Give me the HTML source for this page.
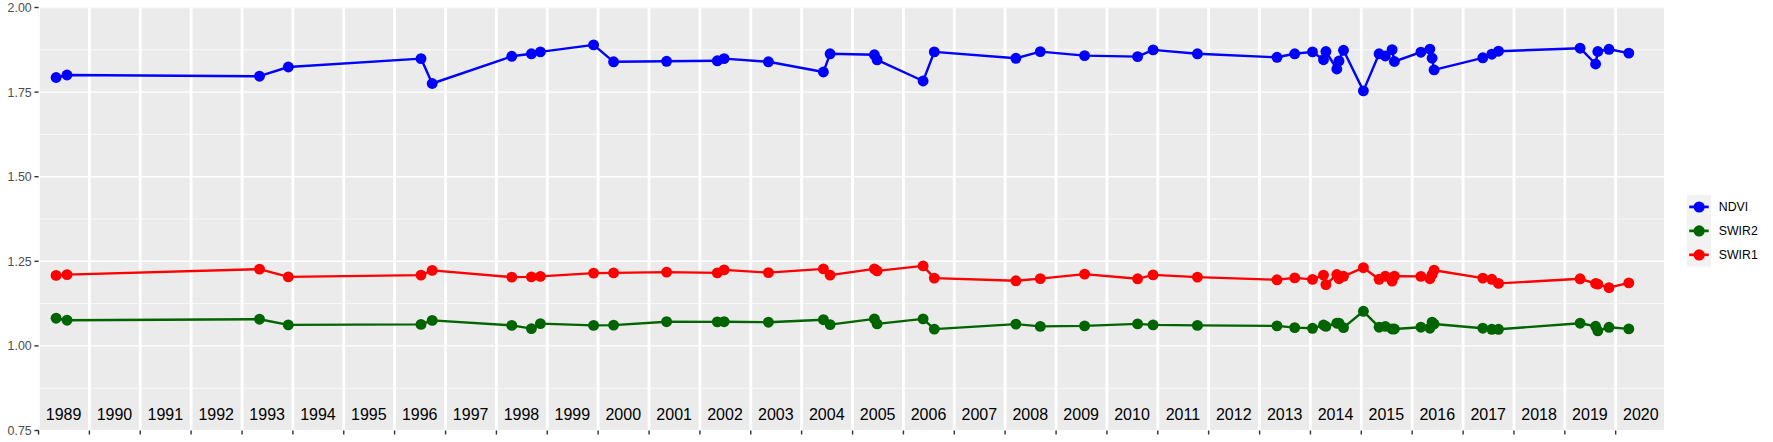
<!DOCTYPE html>
<html><head><meta charset="utf-8"><title>Index time series</title>
<style>html,body{margin:0;padding:0;background:#fff}svg{display:block}text{font-family:"Liberation Sans",sans-serif}</style></head><body>
<svg width="1773" height="442" viewBox="0 0 1773 442">
<rect width="1773" height="442" fill="#fff"/>
<defs><clipPath id="pc"><rect x="38.55" y="7.5" width="1625.50" height="422.50"/></clipPath></defs>
<rect x="38.55" y="7.5" width="1625.50" height="422.50" fill="#EBEBEB"/>
<g clip-path="url(#pc)" stroke="#fff" fill="none">
<line x1="38.55" x2="1664.05" y1="49.80" y2="49.80" stroke-width="0.71"/>
<line x1="38.55" x2="1664.05" y1="134.40" y2="134.40" stroke-width="0.71"/>
<line x1="38.55" x2="1664.05" y1="219.00" y2="219.00" stroke-width="0.71"/>
<line x1="38.55" x2="1664.05" y1="303.60" y2="303.60" stroke-width="0.71"/>
<line x1="38.55" x2="1664.05" y1="388.20" y2="388.20" stroke-width="0.71"/>
<line x1="38.55" x2="1664.05" y1="7.50" y2="7.50" stroke-width="1.42"/>
<line x1="38.55" x2="1664.05" y1="92.10" y2="92.10" stroke-width="1.42"/>
<line x1="38.55" x2="1664.05" y1="176.70" y2="176.70" stroke-width="1.42"/>
<line x1="38.55" x2="1664.05" y1="261.30" y2="261.30" stroke-width="1.42"/>
<line x1="38.55" x2="1664.05" y1="345.90" y2="345.90" stroke-width="1.42"/>
<line x1="38.55" x2="38.55" y1="7.5" y2="430.5" stroke-width="2.85"/>
<line x1="89.39" x2="89.39" y1="7.5" y2="430.5" stroke-width="2.85"/>
<line x1="140.24" x2="140.24" y1="7.5" y2="430.5" stroke-width="2.85"/>
<line x1="191.08" x2="191.08" y1="7.5" y2="430.5" stroke-width="2.85"/>
<line x1="242.06" x2="242.06" y1="7.5" y2="430.5" stroke-width="2.85"/>
<line x1="292.90" x2="292.90" y1="7.5" y2="430.5" stroke-width="2.85"/>
<line x1="343.75" x2="343.75" y1="7.5" y2="430.5" stroke-width="2.85"/>
<line x1="394.59" x2="394.59" y1="7.5" y2="430.5" stroke-width="2.85"/>
<line x1="445.57" x2="445.57" y1="7.5" y2="430.5" stroke-width="2.85"/>
<line x1="496.41" x2="496.41" y1="7.5" y2="430.5" stroke-width="2.85"/>
<line x1="547.26" x2="547.26" y1="7.5" y2="430.5" stroke-width="2.85"/>
<line x1="598.10" x2="598.10" y1="7.5" y2="430.5" stroke-width="2.85"/>
<line x1="649.08" x2="649.08" y1="7.5" y2="430.5" stroke-width="2.85"/>
<line x1="699.92" x2="699.92" y1="7.5" y2="430.5" stroke-width="2.85"/>
<line x1="750.77" x2="750.77" y1="7.5" y2="430.5" stroke-width="2.85"/>
<line x1="801.61" x2="801.61" y1="7.5" y2="430.5" stroke-width="2.85"/>
<line x1="852.59" x2="852.59" y1="7.5" y2="430.5" stroke-width="2.85"/>
<line x1="903.43" x2="903.43" y1="7.5" y2="430.5" stroke-width="2.85"/>
<line x1="954.28" x2="954.28" y1="7.5" y2="430.5" stroke-width="2.85"/>
<line x1="1005.12" x2="1005.12" y1="7.5" y2="430.5" stroke-width="2.85"/>
<line x1="1056.10" x2="1056.10" y1="7.5" y2="430.5" stroke-width="2.85"/>
<line x1="1106.94" x2="1106.94" y1="7.5" y2="430.5" stroke-width="2.85"/>
<line x1="1157.79" x2="1157.79" y1="7.5" y2="430.5" stroke-width="2.85"/>
<line x1="1208.63" x2="1208.63" y1="7.5" y2="430.5" stroke-width="2.85"/>
<line x1="1259.61" x2="1259.61" y1="7.5" y2="430.5" stroke-width="2.85"/>
<line x1="1310.45" x2="1310.45" y1="7.5" y2="430.5" stroke-width="2.85"/>
<line x1="1361.30" x2="1361.30" y1="7.5" y2="430.5" stroke-width="2.85"/>
<line x1="1412.14" x2="1412.14" y1="7.5" y2="430.5" stroke-width="2.85"/>
<line x1="1463.12" x2="1463.12" y1="7.5" y2="430.5" stroke-width="2.85"/>
<line x1="1513.96" x2="1513.96" y1="7.5" y2="430.5" stroke-width="2.85"/>
<line x1="1564.81" x2="1564.81" y1="7.5" y2="430.5" stroke-width="2.85"/>
<line x1="1615.65" x2="1615.65" y1="7.5" y2="430.5" stroke-width="2.85"/>
</g>
<g clip-path="url(#pc)"><polyline points="56.1,77.5 67.0,75.0 259.5,76.2 288.3,67.0 421.0,58.6 432.2,83.5 511.8,56.3 531.4,53.8 540.4,51.9 593.6,44.9 613.6,61.8 666.6,61.3 717.3,60.8 724.1,58.6 768.4,61.8 823.4,72.0 830.1,53.8 874.4,54.8 877.1,59.8 923.1,81.0 934.3,51.9 1015.9,58.3 1040.3,51.6 1084.6,55.6 1137.6,56.6 1153.1,49.9 1197.4,53.8 1277.0,57.3 1294.7,53.8 1312.5,51.9 1323.5,59.7 1325.9,51.5 1336.8,69.0 1339.0,61.0 1343.5,50.3 1363.4,90.9 1379.1,53.8 1385.3,56.0 1392.1,49.7 1394.4,61.5 1420.9,52.2 1429.9,49.1 1432.1,58.2 1434.1,69.9 1482.8,57.8 1491.8,54.2 1498.5,51.2 1580.1,48.2 1595.6,64.0 1597.8,51.5 1609.0,49.3 1628.8,53.1" fill="none" stroke="#0000FF" stroke-width="2.4" stroke-linejoin="round" stroke-linecap="butt"/>
<g fill="#0000FF"><circle cx="56.1" cy="77.5" r="5.45"/><circle cx="67.0" cy="75.0" r="5.45"/><circle cx="259.5" cy="76.2" r="5.45"/><circle cx="288.3" cy="67.0" r="5.45"/><circle cx="421.0" cy="58.6" r="5.45"/><circle cx="432.2" cy="83.5" r="5.45"/><circle cx="511.8" cy="56.3" r="5.45"/><circle cx="531.4" cy="53.8" r="5.45"/><circle cx="540.4" cy="51.9" r="5.45"/><circle cx="593.6" cy="44.9" r="5.45"/><circle cx="613.6" cy="61.8" r="5.45"/><circle cx="666.6" cy="61.3" r="5.45"/><circle cx="717.3" cy="60.8" r="5.45"/><circle cx="724.1" cy="58.6" r="5.45"/><circle cx="768.4" cy="61.8" r="5.45"/><circle cx="823.4" cy="72.0" r="5.45"/><circle cx="830.1" cy="53.8" r="5.45"/><circle cx="874.4" cy="54.8" r="5.45"/><circle cx="877.1" cy="59.8" r="5.45"/><circle cx="923.1" cy="81.0" r="5.45"/><circle cx="934.3" cy="51.9" r="5.45"/><circle cx="1015.9" cy="58.3" r="5.45"/><circle cx="1040.3" cy="51.6" r="5.45"/><circle cx="1084.6" cy="55.6" r="5.45"/><circle cx="1137.6" cy="56.6" r="5.45"/><circle cx="1153.1" cy="49.9" r="5.45"/><circle cx="1197.4" cy="53.8" r="5.45"/><circle cx="1277.0" cy="57.3" r="5.45"/><circle cx="1294.7" cy="53.8" r="5.45"/><circle cx="1312.5" cy="51.9" r="5.45"/><circle cx="1323.5" cy="59.7" r="5.45"/><circle cx="1325.9" cy="51.5" r="5.45"/><circle cx="1336.8" cy="69.0" r="5.45"/><circle cx="1339.0" cy="61.0" r="5.45"/><circle cx="1343.5" cy="50.3" r="5.45"/><circle cx="1363.4" cy="90.9" r="5.45"/><circle cx="1379.1" cy="53.8" r="5.45"/><circle cx="1385.3" cy="56.0" r="5.45"/><circle cx="1392.1" cy="49.7" r="5.45"/><circle cx="1394.4" cy="61.5" r="5.45"/><circle cx="1420.9" cy="52.2" r="5.45"/><circle cx="1429.9" cy="49.1" r="5.45"/><circle cx="1432.1" cy="58.2" r="5.45"/><circle cx="1434.1" cy="69.9" r="5.45"/><circle cx="1482.8" cy="57.8" r="5.45"/><circle cx="1491.8" cy="54.2" r="5.45"/><circle cx="1498.5" cy="51.2" r="5.45"/><circle cx="1580.1" cy="48.2" r="5.45"/><circle cx="1595.6" cy="64.0" r="5.45"/><circle cx="1597.8" cy="51.5" r="5.45"/><circle cx="1609.0" cy="49.3" r="5.45"/><circle cx="1628.8" cy="53.1" r="5.45"/></g></g>
<g clip-path="url(#pc)"><polyline points="56.1,318.2 67.0,320.2 259.5,319.2 288.3,324.9 421.0,324.4 432.2,320.4 511.8,325.4 531.4,328.6 540.4,323.6 593.6,325.4 613.6,325.1 666.6,321.7 717.3,321.9 724.1,321.7 768.4,322.2 823.4,319.7 830.1,324.6 874.4,318.9 877.1,323.9 923.1,318.9 934.3,329.1 1015.9,324.1 1040.3,326.4 1084.6,325.9 1137.6,323.9 1153.1,324.9 1197.4,325.4 1277.0,325.9 1294.7,327.6 1312.5,328.3 1323.5,325.0 1325.9,326.4 1336.8,323.2 1339.0,323.2 1343.5,327.6 1363.4,311.3 1379.1,327.2 1385.3,326.4 1392.1,329.0 1394.4,329.0 1420.9,327.2 1429.9,328.2 1432.1,322.2 1434.1,324.0 1482.8,328.2 1491.8,329.3 1498.5,329.3 1580.1,323.2 1595.6,326.3 1597.8,330.8 1609.0,327.3 1628.8,328.9" fill="none" stroke="#006400" stroke-width="2.4" stroke-linejoin="round" stroke-linecap="butt"/>
<g fill="#006400"><circle cx="56.1" cy="318.2" r="5.45"/><circle cx="67.0" cy="320.2" r="5.45"/><circle cx="259.5" cy="319.2" r="5.45"/><circle cx="288.3" cy="324.9" r="5.45"/><circle cx="421.0" cy="324.4" r="5.45"/><circle cx="432.2" cy="320.4" r="5.45"/><circle cx="511.8" cy="325.4" r="5.45"/><circle cx="531.4" cy="328.6" r="5.45"/><circle cx="540.4" cy="323.6" r="5.45"/><circle cx="593.6" cy="325.4" r="5.45"/><circle cx="613.6" cy="325.1" r="5.45"/><circle cx="666.6" cy="321.7" r="5.45"/><circle cx="717.3" cy="321.9" r="5.45"/><circle cx="724.1" cy="321.7" r="5.45"/><circle cx="768.4" cy="322.2" r="5.45"/><circle cx="823.4" cy="319.7" r="5.45"/><circle cx="830.1" cy="324.6" r="5.45"/><circle cx="874.4" cy="318.9" r="5.45"/><circle cx="877.1" cy="323.9" r="5.45"/><circle cx="923.1" cy="318.9" r="5.45"/><circle cx="934.3" cy="329.1" r="5.45"/><circle cx="1015.9" cy="324.1" r="5.45"/><circle cx="1040.3" cy="326.4" r="5.45"/><circle cx="1084.6" cy="325.9" r="5.45"/><circle cx="1137.6" cy="323.9" r="5.45"/><circle cx="1153.1" cy="324.9" r="5.45"/><circle cx="1197.4" cy="325.4" r="5.45"/><circle cx="1277.0" cy="325.9" r="5.45"/><circle cx="1294.7" cy="327.6" r="5.45"/><circle cx="1312.5" cy="328.3" r="5.45"/><circle cx="1323.5" cy="325.0" r="5.45"/><circle cx="1325.9" cy="326.4" r="5.45"/><circle cx="1336.8" cy="323.2" r="5.45"/><circle cx="1339.0" cy="323.2" r="5.45"/><circle cx="1343.5" cy="327.6" r="5.45"/><circle cx="1363.4" cy="311.3" r="5.45"/><circle cx="1379.1" cy="327.2" r="5.45"/><circle cx="1385.3" cy="326.4" r="5.45"/><circle cx="1392.1" cy="329.0" r="5.45"/><circle cx="1394.4" cy="329.0" r="5.45"/><circle cx="1420.9" cy="327.2" r="5.45"/><circle cx="1429.9" cy="328.2" r="5.45"/><circle cx="1432.1" cy="322.2" r="5.45"/><circle cx="1434.1" cy="324.0" r="5.45"/><circle cx="1482.8" cy="328.2" r="5.45"/><circle cx="1491.8" cy="329.3" r="5.45"/><circle cx="1498.5" cy="329.3" r="5.45"/><circle cx="1580.1" cy="323.2" r="5.45"/><circle cx="1595.6" cy="326.3" r="5.45"/><circle cx="1597.8" cy="330.8" r="5.45"/><circle cx="1609.0" cy="327.3" r="5.45"/><circle cx="1628.8" cy="328.9" r="5.45"/></g></g>
<g clip-path="url(#pc)"><polyline points="56.1,275.4 67.0,274.6 259.5,269.1 288.3,276.9 421.0,275.1 432.2,270.4 511.8,277.1 531.4,276.9 540.4,276.4 593.6,273.1 613.6,272.9 666.6,272.1 717.3,272.9 724.1,269.9 768.4,272.6 823.4,268.9 830.1,275.1 874.4,268.9 877.1,270.9 923.1,265.9 934.3,278.1 1015.9,280.8 1040.3,278.6 1084.6,274.1 1137.6,278.8 1153.1,274.9 1197.4,277.1 1277.0,279.8 1294.7,277.9 1312.5,279.4 1323.5,275.1 1325.9,284.6 1336.8,274.5 1339.0,278.7 1343.5,276.3 1363.4,267.7 1379.1,279.3 1385.3,276.3 1392.1,281.1 1394.4,276.1 1420.9,276.4 1429.9,278.7 1432.1,274.5 1434.1,270.2 1482.8,278.1 1491.8,279.3 1498.5,283.4 1580.1,278.8 1595.6,283.5 1597.8,284.1 1609.0,287.6 1628.8,282.9" fill="none" stroke="#FF0000" stroke-width="2.4" stroke-linejoin="round" stroke-linecap="butt"/>
<g fill="#FF0000"><circle cx="56.1" cy="275.4" r="5.45"/><circle cx="67.0" cy="274.6" r="5.45"/><circle cx="259.5" cy="269.1" r="5.45"/><circle cx="288.3" cy="276.9" r="5.45"/><circle cx="421.0" cy="275.1" r="5.45"/><circle cx="432.2" cy="270.4" r="5.45"/><circle cx="511.8" cy="277.1" r="5.45"/><circle cx="531.4" cy="276.9" r="5.45"/><circle cx="540.4" cy="276.4" r="5.45"/><circle cx="593.6" cy="273.1" r="5.45"/><circle cx="613.6" cy="272.9" r="5.45"/><circle cx="666.6" cy="272.1" r="5.45"/><circle cx="717.3" cy="272.9" r="5.45"/><circle cx="724.1" cy="269.9" r="5.45"/><circle cx="768.4" cy="272.6" r="5.45"/><circle cx="823.4" cy="268.9" r="5.45"/><circle cx="830.1" cy="275.1" r="5.45"/><circle cx="874.4" cy="268.9" r="5.45"/><circle cx="877.1" cy="270.9" r="5.45"/><circle cx="923.1" cy="265.9" r="5.45"/><circle cx="934.3" cy="278.1" r="5.45"/><circle cx="1015.9" cy="280.8" r="5.45"/><circle cx="1040.3" cy="278.6" r="5.45"/><circle cx="1084.6" cy="274.1" r="5.45"/><circle cx="1137.6" cy="278.8" r="5.45"/><circle cx="1153.1" cy="274.9" r="5.45"/><circle cx="1197.4" cy="277.1" r="5.45"/><circle cx="1277.0" cy="279.8" r="5.45"/><circle cx="1294.7" cy="277.9" r="5.45"/><circle cx="1312.5" cy="279.4" r="5.45"/><circle cx="1323.5" cy="275.1" r="5.45"/><circle cx="1325.9" cy="284.6" r="5.45"/><circle cx="1336.8" cy="274.5" r="5.45"/><circle cx="1339.0" cy="278.7" r="5.45"/><circle cx="1343.5" cy="276.3" r="5.45"/><circle cx="1363.4" cy="267.7" r="5.45"/><circle cx="1379.1" cy="279.3" r="5.45"/><circle cx="1385.3" cy="276.3" r="5.45"/><circle cx="1392.1" cy="281.1" r="5.45"/><circle cx="1394.4" cy="276.1" r="5.45"/><circle cx="1420.9" cy="276.4" r="5.45"/><circle cx="1429.9" cy="278.7" r="5.45"/><circle cx="1432.1" cy="274.5" r="5.45"/><circle cx="1434.1" cy="270.2" r="5.45"/><circle cx="1482.8" cy="278.1" r="5.45"/><circle cx="1491.8" cy="279.3" r="5.45"/><circle cx="1498.5" cy="283.4" r="5.45"/><circle cx="1580.1" cy="278.8" r="5.45"/><circle cx="1595.6" cy="283.5" r="5.45"/><circle cx="1597.8" cy="284.1" r="5.45"/><circle cx="1609.0" cy="287.6" r="5.45"/><circle cx="1628.8" cy="282.9" r="5.45"/></g></g>
<g stroke="#333" stroke-width="1.42">
<line x1="34.45" x2="38.55" y1="7.50" y2="7.50"/>
<line x1="34.45" x2="38.55" y1="92.10" y2="92.10"/>
<line x1="34.45" x2="38.55" y1="176.70" y2="176.70"/>
<line x1="34.45" x2="38.55" y1="261.30" y2="261.30"/>
<line x1="34.45" x2="38.55" y1="345.90" y2="345.90"/>
<line x1="34.45" x2="38.55" y1="430.50" y2="430.50"/>
<line x1="38.55" x2="38.55" y1="430.5" y2="434.50"/>
<line x1="89.39" x2="89.39" y1="430.5" y2="434.50"/>
<line x1="140.24" x2="140.24" y1="430.5" y2="434.50"/>
<line x1="191.08" x2="191.08" y1="430.5" y2="434.50"/>
<line x1="242.06" x2="242.06" y1="430.5" y2="434.50"/>
<line x1="292.90" x2="292.90" y1="430.5" y2="434.50"/>
<line x1="343.75" x2="343.75" y1="430.5" y2="434.50"/>
<line x1="394.59" x2="394.59" y1="430.5" y2="434.50"/>
<line x1="445.57" x2="445.57" y1="430.5" y2="434.50"/>
<line x1="496.41" x2="496.41" y1="430.5" y2="434.50"/>
<line x1="547.26" x2="547.26" y1="430.5" y2="434.50"/>
<line x1="598.10" x2="598.10" y1="430.5" y2="434.50"/>
<line x1="649.08" x2="649.08" y1="430.5" y2="434.50"/>
<line x1="699.92" x2="699.92" y1="430.5" y2="434.50"/>
<line x1="750.77" x2="750.77" y1="430.5" y2="434.50"/>
<line x1="801.61" x2="801.61" y1="430.5" y2="434.50"/>
<line x1="852.59" x2="852.59" y1="430.5" y2="434.50"/>
<line x1="903.43" x2="903.43" y1="430.5" y2="434.50"/>
<line x1="954.28" x2="954.28" y1="430.5" y2="434.50"/>
<line x1="1005.12" x2="1005.12" y1="430.5" y2="434.50"/>
<line x1="1056.10" x2="1056.10" y1="430.5" y2="434.50"/>
<line x1="1106.94" x2="1106.94" y1="430.5" y2="434.50"/>
<line x1="1157.79" x2="1157.79" y1="430.5" y2="434.50"/>
<line x1="1208.63" x2="1208.63" y1="430.5" y2="434.50"/>
<line x1="1259.61" x2="1259.61" y1="430.5" y2="434.50"/>
<line x1="1310.45" x2="1310.45" y1="430.5" y2="434.50"/>
<line x1="1361.30" x2="1361.30" y1="430.5" y2="434.50"/>
<line x1="1412.14" x2="1412.14" y1="430.5" y2="434.50"/>
<line x1="1463.12" x2="1463.12" y1="430.5" y2="434.50"/>
<line x1="1513.96" x2="1513.96" y1="430.5" y2="434.50"/>
<line x1="1564.81" x2="1564.81" y1="430.5" y2="434.50"/>
<line x1="1615.65" x2="1615.65" y1="430.5" y2="434.50"/>
</g>
<g font-size="12.4" fill="#4D4D4D" text-anchor="end">
<text x="31.68" y="11.95">2.00</text>
<text x="31.68" y="96.55">1.75</text>
<text x="31.68" y="181.15">1.50</text>
<text x="31.68" y="265.75">1.25</text>
<text x="31.68" y="350.35">1.00</text>
<text x="31.68" y="434.95">0.75</text>
</g>
<g font-size="16" fill="#000" text-anchor="middle">
<text x="63.62" y="420.0">1989</text>
<text x="114.46" y="420.0">1990</text>
<text x="165.31" y="420.0">1991</text>
<text x="216.22" y="420.0">1992</text>
<text x="267.13" y="420.0">1993</text>
<text x="317.97" y="420.0">1994</text>
<text x="368.82" y="420.0">1995</text>
<text x="419.73" y="420.0">1996</text>
<text x="470.64" y="420.0">1997</text>
<text x="521.48" y="420.0">1998</text>
<text x="572.33" y="420.0">1999</text>
<text x="623.24" y="420.0">2000</text>
<text x="674.15" y="420.0">2001</text>
<text x="724.99" y="420.0">2002</text>
<text x="775.84" y="420.0">2003</text>
<text x="826.75" y="420.0">2004</text>
<text x="877.66" y="420.0">2005</text>
<text x="928.51" y="420.0">2006</text>
<text x="979.35" y="420.0">2007</text>
<text x="1030.26" y="420.0">2008</text>
<text x="1081.17" y="420.0">2009</text>
<text x="1132.02" y="420.0">2010</text>
<text x="1182.86" y="420.0">2011</text>
<text x="1233.77" y="420.0">2012</text>
<text x="1284.68" y="420.0">2013</text>
<text x="1335.53" y="420.0">2014</text>
<text x="1386.37" y="420.0">2015</text>
<text x="1437.28" y="420.0">2016</text>
<text x="1488.19" y="420.0">2017</text>
<text x="1539.04" y="420.0">2018</text>
<text x="1589.88" y="420.0">2019</text>
<text x="1640.79" y="420.0">2020</text>
</g>
<rect x="1686.8" y="194.85" width="24.30" height="71.85" fill="#F2F2F2"/>
<line x1="1689.23" x2="1708.67" y1="206.92" y2="206.92" stroke="#0000FF" stroke-width="2.7"/>
<circle cx="1699.15" cy="207.02" r="5.6" fill="#0000FF"/>
<text x="1718.8" y="210.92" font-size="12.3" fill="#000">NDVI</text>
<line x1="1689.23" x2="1708.67" y1="230.88" y2="230.88" stroke="#006400" stroke-width="2.7"/>
<circle cx="1699.15" cy="230.97" r="5.6" fill="#006400"/>
<text x="1718.8" y="234.88" font-size="12.3" fill="#000">SWIR2</text>
<line x1="1689.23" x2="1708.67" y1="254.82" y2="254.82" stroke="#FF0000" stroke-width="2.7"/>
<circle cx="1699.15" cy="254.92" r="5.6" fill="#FF0000"/>
<text x="1718.8" y="258.82" font-size="12.3" fill="#000">SWIR1</text>
</svg></body></html>
